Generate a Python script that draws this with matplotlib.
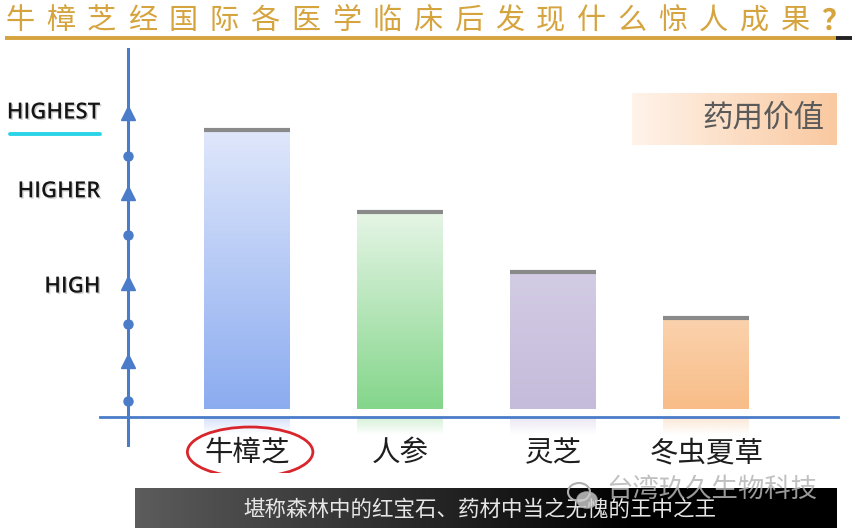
import numpy as np
import matplotlib
matplotlib.use("Agg")
import matplotlib.pyplot as plt
from matplotlib.patches import Ellipse, Rectangle
from matplotlib.colors import to_rgb
import matplotlib.patheffects as pe

plt.rcParams['font.family'] = ['Noto Sans CJK SC', 'DejaVu Sans']

# ---------------- data ----------------
title = "牛樟芝经国际各医学临床后发现什么惊人成果？"
categories = ["牛樟芝", "人参", "灵芝", "冬虫夏草"]
values = [7.18, 5.13, 3.63, 2.48]
bar_top_colors = ["#dfe7fb", "#e6f5e6", "#d3cce4", "#fbd2ad"]
bar_bottom_colors = ["#8cacf0", "#84d68b", "#c5bbdb", "#f8bd88"]
level_labels = ["HIGH", "HIGHER", "HIGHEST"]
level_positions = [3.25, 5.63, 7.6]
triangle_levels = [1.4, 3.35, 5.6, 7.6]
dot_levels = [0.4, 2.33, 4.55, 6.53]
legend_label = "药用价值"
caption = "堪称森林中的红宝石、药材中当之无愧的王中之王"
watermark = "台湾玖久生物科技"

W, H = 855, 528
fig = plt.figure(figsize=(W / 100, H / 100), dpi=100)
fig.patch.set_facecolor("white")

# ---------------- main chart axes ----------------
ax = fig.add_axes([94 / W, (H - 473) / H, 750 / W, 440 / H])
ax.set_xlim(-1.0, 3.9)
ax.set_ylim(-1.4, 9.6)
ax.axis("off")

axis_color = "#4a7cc9"
x = np.arange(len(categories))
bw = 0.56
yaxis_x = -0.78

for i, (v, ct, cb) in enumerate(zip(values, bar_top_colors, bar_bottom_colors)):
    n = 64
    t = np.linspace(0, 1, n)[:, None]
    c0 = np.array(to_rgb(cb)); c1 = np.array(to_rgb(ct))
    grad = (c0 * (1 - t) + c1 * t)[:, None, :]
    ax.imshow(grad, extent=(x[i] - bw / 2, x[i] + bw / 2, 0.2, v),
              origin="lower", aspect="auto", zorder=2, interpolation="bilinear")
    # faint reflection below axis
    ref = np.ones((n, 1, 4))
    ref[:, 0, :3] = c0
    ref[:, 0, 3] = np.linspace(0.0, 0.35, n)
    ax.imshow(ref, extent=(x[i] - bw / 2, x[i] + bw / 2, -0.45, 0.0),
              origin="lower", aspect="auto", zorder=1, interpolation="bilinear")
    ax.plot([x[i] - bw / 2, x[i] + bw / 2], [v, v], color="#8a8a8a", lw=3,
            solid_capstyle="butt", zorder=3)
    ax.text(x[i], -0.9, categories[i], ha="center", va="center",
            fontsize=20.5, color="#1e1e1e", zorder=4)

ax.set_xlim(-1.0, 3.9)
ax.set_ylim(-1.4, 9.6)

# axes lines
ax.plot([yaxis_x, yaxis_x], [-0.7, 9.2], color=axis_color, lw=2.2, zorder=5)
ax.plot([-0.96, 3.86], [0, 0], color=axis_color, lw=2.0, zorder=5)
ax.plot([yaxis_x] * len(triangle_levels), triangle_levels, ls="none", marker="^",
        ms=10, color=axis_color, zorder=6)
ax.plot([yaxis_x] * len(dot_levels), dot_levels, ls="none", marker="o",
        ms=6.5, color=axis_color, zorder=6)

for lab, pos in zip(level_labels, level_positions):
    ax.text(-0.955, pos, lab, ha="right", va="center", fontsize=16,
            family="Open Sans", color="#151515", fontweight="semibold",
            fontstretch="condensed", clip_on=False,
            path_effects=[pe.SimplePatchShadow(offset=(1, -1), shadow_rgbFace="#888888", alpha=0.4),
                          pe.Normal()])
# cyan underline under HIGHEST
ax.plot([-1.55, -0.96], [7.08, 7.08], color="#2ad4e6", lw=2.8, clip_on=False,
        solid_capstyle="round")

# highlight ellipse
ax.add_patch(Ellipse((0.02, -0.875), 0.82, 1.25, fill=False, edgecolor="#d8262c",
                     lw=2.0, zorder=7))

# ---------------- decoration overlay (pixel coords) ----------------
ov = fig.add_axes([0, 0, 1, 1], zorder=10)
ov.set_xlim(0, W)
ov.set_ylim(H, 0)
ov.axis("off")
ov.patch.set_alpha(0)

gold = "#d6a43e"
n_t = len(title)
for k, ch in enumerate(title):
    cx = 20 + k * (836 - 20) / (n_t - 1)
    ov.text(cx, 21, ch, ha="center", va="center", fontsize=21, color=gold,
            fontweight="bold" if ch == "？" else "light")
ov.plot([5, 836], [38, 38], color=gold, lw=2.8, solid_capstyle="butt")
ov.plot([836, 852], [38, 38], color="#222222", lw=2.8, solid_capstyle="butt")

# legend box with gradient
lg = np.linspace(0, 1, 100)[None, :, None]
lc0 = np.array(to_rgb("#fff3ea")); lc1 = np.array(to_rgb("#f9c9a0"))
lgrad = lc0 * (1 - lg) + lc1 * lg
ov.imshow(lgrad, extent=(632, 836, 145, 93), aspect="auto", zorder=1)
ov.text(763, 118, legend_label, ha="center", va="center", fontsize=22,
        color="#5a5a5a", zorder=2)

# caption banner
bg = np.linspace(0, 1, 200)[None, :, None]
b0 = np.array(to_rgb("#5c5c5c")); b1 = np.array(to_rgb("#000000"))
bfrac = np.clip(bg * 1.4, 0, 1)
bgrad = b0 * (1 - bfrac) + b1 * bfrac
ov.imshow(bgrad, extent=(135, 836, 528, 488), aspect="auto", zorder=1)
ov.text(480, 510, caption, ha="center", va="center", fontsize=15.5,
        color="#e6e6e6", zorder=3)

# watermark
ov.add_patch(Ellipse((579, 492), 22, 18, facecolor="none", edgecolor="#b0b0b0",
                     lw=1.5, zorder=4))
ov.add_patch(Ellipse((587, 500), 20, 16, facecolor="#cfcfcf", edgecolor="#b0b0b0",
                     lw=1.2, zorder=4, alpha=0.8))
ov.text(712, 490, watermark, ha="center", va="center", fontsize=19,
        color="#b5b5b5", alpha=0.85, zorder=4)

ov.set_xlim(0, W)
ov.set_ylim(H, 0)

fig.savefig("out.png", dpi=100)
